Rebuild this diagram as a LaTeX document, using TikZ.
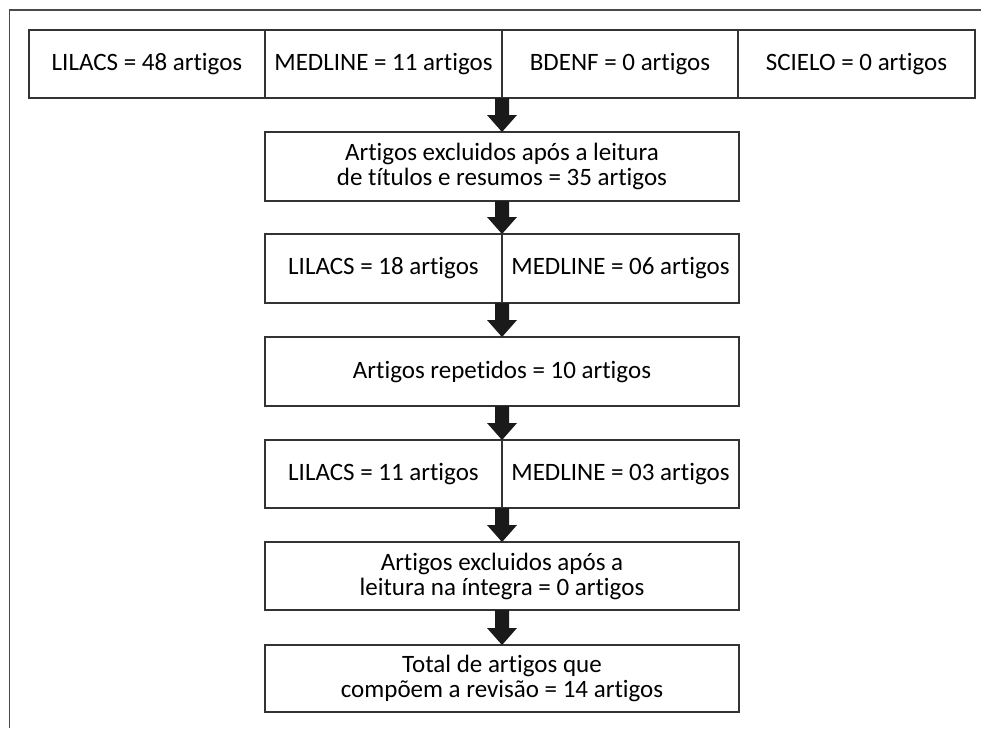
\documentclass[tikz,border=0pt]{standalone}
\usepackage{fontspec}
\setmainfont{Carlito}[Ligatures=NoCommon, RawFeature={-calt}]
\usetikzlibrary{calc}
\definecolor{boxgray}{HTML}{333333}
\definecolor{arrowblack}{HTML}{1A1A1A}
\definecolor{framegray}{HTML}{4A4A4A}
\tikzset{
  cell/.style={draw=boxgray, line width=1.3pt, inner sep=0pt, outer sep=0pt,
    minimum height=69pt, align=center, text=black,
    font=\fontsize{25}{25}\selectfont},
  wide/.style={cell, minimum width=474pt},
  half/.style={cell, minimum width=237pt},
  arrowfill/.style={fill=arrowblack},
  frame/.style={draw=framegray, line width=1.9pt}
}
\newcommand\flowarrow[2]{%
  \fill[arrowfill] ($(#1)+(-7,0)$) -- ($(#2)+(-7,-17)$) -- ($(#2)+(-15,-17)$)
    -- (#2) -- ($(#2)+(15,-17)$) -- ($(#2)+(7,-17)$) -- ($(#1)+(7,0)$) -- cycle;}
\begin{document}
\begin{tikzpicture}[x=1pt,y=-1pt]
\useasboundingbox[fill=white] (0,0) rectangle (981,728);
\draw[frame] (9.5,728) -- (9.5,10) -- (981,10);
% top row
\node[cell, minimum width=236pt, minimum height=68pt] (lil48) at (147,64) {LILACS = 48 artigos};
\node[cell, minimum width=237pt, minimum height=68pt] (med11) at (383.5,64) {MEDLINE = 11 artigos};
\node[cell, minimum width=236pt, minimum height=68pt] (bdenf) at (620,64) {BDENF = 0 artigos};
\node[cell, minimum width=237pt, minimum height=68pt] (scielo) at (856.5,64) {SCIELO = 0 artigos};
% boxes
\node[wide] (excl1) at (502,166.5) {Artigos excluidos após a leitura\\de títulos e resumos = 35 artigos};
\node[half] (lil18) at (383.5,268.5) {LILACS = 18 artigos};
\node[half] (med06) at (620.5,268.5) {MEDLINE = 06 artigos};
\node[wide] (rep) at (502,371.5) {Artigos repetidos = 10 artigos};
\node[half, minimum height=68pt] (lil11) at (383.5,474) {LILACS = 11 artigos};
\node[half, minimum height=68pt] (med03) at (620.5,474) {MEDLINE = 03 artigos};
\node[wide, minimum height=68pt] (excl2) at (502,576) {Artigos excluidos após a\\leitura na íntegra = 0 artigos};
\node[wide, minimum height=67pt] (total) at (502,678.5) {Total de artigos que\\compõem a revisão = 14 artigos};
% arrows
\flowarrow{med11.south east}{excl1.north}
\flowarrow{excl1.south}{lil18.north east}
\flowarrow{lil18.south east}{rep.north}
\flowarrow{rep.south}{lil11.north east}
\flowarrow{lil11.south east}{excl2.north}
\flowarrow{excl2.south}{total.north}
\end{tikzpicture}
\end{document}
